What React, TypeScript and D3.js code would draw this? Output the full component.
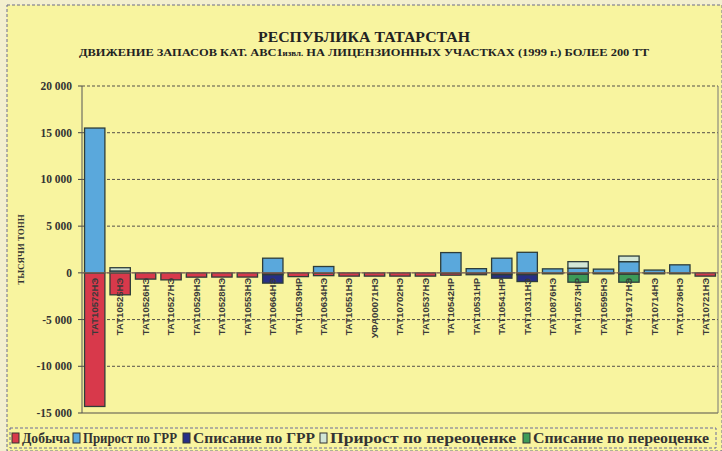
import React from 'react';
import * as d3 from 'd3';

const W = 722;
const H = 451;

const categories = [
  'ТАТ10572НЭ', 'ТАТ10525НЭ', 'ТАТ10526НЭ', 'ТАТ10527НЭ', 'ТАТ10529НЭ',
  'ТАТ10528НЭ', 'ТАТ10553НЭ', 'ТАТ10664НЭ', 'ТАТ10539НР', 'ТАТ10634НЭ',
  'ТАТ10551НЭ', 'УФА00071НЭ', 'ТАТ10702НЭ', 'ТАТ10537НЭ', 'ТАТ10542НР',
  'ТАТ10531НР', 'ТАТ10541НР', 'ТАТ10311НЭ', 'ТАТ10876НЭ', 'ТАТ10573НР',
  'ТАТ10595НЭ', 'ТАТ19717НЭ', 'ТАТ10714НЭ', 'ТАТ10736НЭ', 'ТАТ10721НЭ',
];

const dobycha = [-14300, -2350, -670, -750, -460, -450, -450, -200, -400, -300,
  -350, -350, -350, -350, -250, -200, -200, -200, -100, -150,
  -100, -150, -100, -100, -350];
const prirostGrr = [15500, 200, 0, 0, 0, 0, 0, 1570, 0, 680,
  0, 0, 0, 0, 2170, 450, 1570, 2200, 430, 500,
  400, 1200, 300, 860, 0];
const spisanieGrr = [0, 0, 0, 0, 0, 0, 0, -900, 0, 0,
  0, 0, 0, 0, 0, 0, -370, -730, 0, 0,
  0, 0, 0, 0, 0];
const prirostPereocenka = [0, 350, 0, 0, 0, 0, 0, 0, 0, 0,
  0, 0, 0, 0, 0, 0, 0, 0, 0, 700,
  0, 600, 0, 0, 0];
const spisaniePereocenka = [0, 0, 0, 0, 0, 0, 0, 0, 0, 0,
  0, 0, 0, 0, 0, 0, 0, 0, 0, -850,
  0, -850, 0, 0, 0];

const seriesNames = ['Добыча', 'Прирост по ГРР', 'Списание по ГРР', 'Прирост по переоценке', 'Списание по переоценке'];
const seriesKeys = ['dob', 'grr', 'sgrr', 'pper', 'sper'];
const colors = ['#d8394b', '#5aa8dc', '#272f86', '#d2e6d6', '#3d9b58'];
const yTicks = [20000, 15000, 10000, 5000, 0, -5000, -10000, -15000];

const ruLocale = d3.formatLocale({ decimal: ',', thousands: ' ', grouping: [3], currency: ['', ''], minus: '-' });
const fmt = ruLocale.format(',d');

const App = () => {
  const margin = { left: 82, right: 4, top: 86, bottom: 38 };
  const plotRight = W - margin.right;
  const plotBottom = H - margin.bottom;

  const rows = categories.map((c, i) => ({
    cat: c,
    dob: dobycha[i],
    grr: prirostGrr[i],
    sgrr: spisanieGrr[i],
    pper: prirostPereocenka[i],
    sper: spisaniePereocenka[i],
  }));

  const stacked = d3.stack<any>()
    .keys(seriesKeys)
    .offset(d3.stackOffsetDiverging)(rows);

  const xScale = d3.scaleBand()
    .domain(categories)
    .range([margin.left, plotRight])
    .paddingInner(0.2)
    .paddingOuter(0.1);

  const yScale = d3.scaleLinear()
    .domain([-15000, 20000])
    .range([plotBottom, margin.top]);

  // legend layout (swatch x, text width)
  const legendX = [12, 73, 183, 320, 523];
  const legendW = [48, 94, 122, 186, 176];

  return (
    <svg width={W} height={H} style={{ position: 'absolute', left: 0, top: 0 }}>
      <rect x={0} y={0} width={W} height={H} fill='#f3efcf' />
      <rect x={7} y={5} width={W - 7} height={H - 5} fill='#f8f49f' stroke='#6a6a8a' strokeDasharray='3,2' />

      <text x={364} y={42} textAnchor='middle' textLength={212} lengthAdjust='spacingAndGlyphs'
        fontFamily='Liberation Serif' fontWeight='bold' fontSize={15} fill='#222'>
        РЕСПУБЛИКА ТАТАРСТАН
      </text>
      <text x={364} y={56} textAnchor='middle' textLength={570} lengthAdjust='spacingAndGlyphs'
        fontFamily='Liberation Serif' fontWeight='bold' fontSize={10.5} fill='#222'>
        ДВИЖЕНИЕ ЗАПАСОВ КАТ. АВС1<tspan fontSize={7.5}>извл.</tspan> НА ЛИЦЕНЗИОННЫХ УЧАСТКАХ (1999 г.) БОЛЕЕ 200 ТТ
      </text>

      {yTicks.map(t => (
        <g key={t}>
          <line x1={margin.left} x2={plotRight} y1={yScale(t)} y2={yScale(t)}
            stroke='#55504a' strokeWidth={1} strokeDasharray={t === -15000 ? 'none' : '3,2'} />
          <line x1={margin.left - 4} x2={margin.left} y1={yScale(t)} y2={yScale(t)} stroke='#444' />
          <text x={margin.left - 10} y={yScale(t)} dy='0.35em' textAnchor='end'
            fontFamily='Liberation Serif' fontWeight='bold' fontSize={11.5} fill='#333'>
            {fmt(t)}
          </text>
        </g>
      ))}
      <line x1={margin.left} x2={margin.left} y1={margin.top} y2={plotBottom} stroke='#555' />
      <line x1={plotRight} x2={plotRight} y1={margin.top} y2={plotBottom} stroke='#777' />

      <text transform={`translate(24,${(margin.top + plotBottom) / 2}) rotate(-90)`} textAnchor='middle'
        fontFamily='Liberation Serif' fontWeight='bold' fontSize={9} fill='#333'>
        ТЫСЯЧИ ТОНН
      </text>

      {stacked.map((s, si) => (
        <g key={s.key} fill={colors[si]} stroke='#2e3d3a' strokeWidth={1.3}>
          {s.filter(d => d[1] !== d[0]).map(d => (
            <rect key={d.data.cat}
              x={xScale(d.data.cat)}
              y={yScale(Math.max(d[0], d[1]))}
              width={xScale.bandwidth()}
              height={Math.abs(yScale(d[0]) - yScale(d[1]))} />
          ))}
        </g>
      ))}

      <line x1={margin.left} x2={plotRight} y1={yScale(0)} y2={yScale(0)} stroke='#8a6a5a' strokeWidth={1} />

      {categories.map(c => (
        <text key={c}
          transform={`translate(${(xScale(c) ?? 0) + xScale.bandwidth() / 2},${yScale(0) + 5}) rotate(-90)`}
          textAnchor='end' dy='0.35em'
          fontFamily='Liberation Sans' fontWeight='bold' fontSize={9.5} fill='#3a3a3a'>
          {c}
        </text>
      ))}

      <rect x={10} y={428} width={706} height={20} fill='#f8f49f' stroke='#6a6a9a' strokeDasharray='3,2' />
      {seriesNames.map((n, i) => (
        <g key={n}>
          <rect x={legendX[i]} y={433} width={7} height={10} fill={colors[i]} stroke='#333' strokeWidth={1} />
          <text x={legendX[i] + 10} y={443} textLength={legendW[i]} lengthAdjust='spacingAndGlyphs'
            fontFamily='Liberation Serif' fontWeight='bold' fontSize={14.5} fill='#333'>
            {n}
          </text>
        </g>
      ))}
    </svg>
  );
};

export default App;
